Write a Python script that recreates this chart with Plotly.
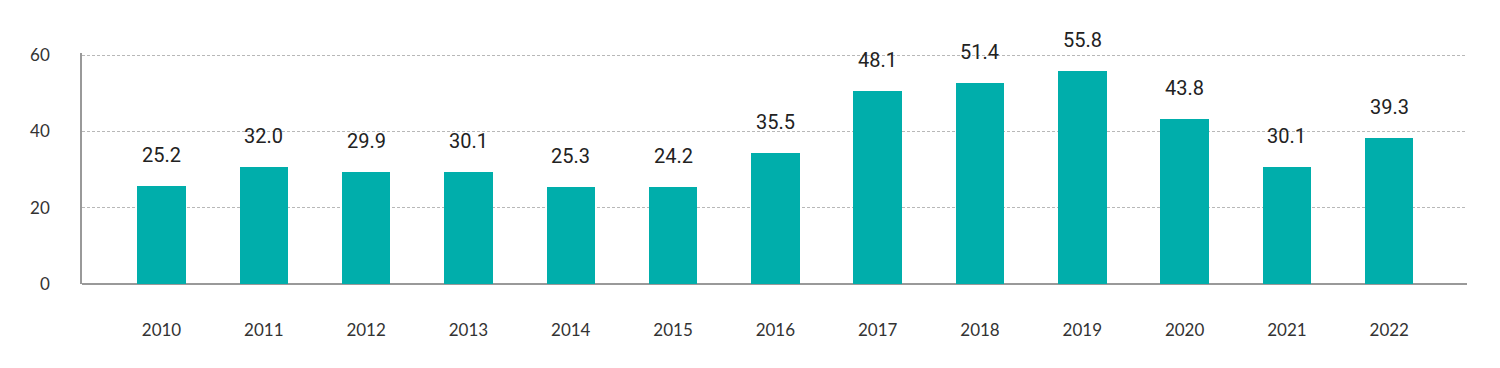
import plotly.graph_objects as go

years = ["2010", "2011", "2012", "2013", "2014", "2015", "2016",
         "2017", "2018", "2019", "2020", "2021", "2022"]
bar_values = [25.6, 30.6, 29.5, 29.5, 25.5, 25.4, 34.4,
              50.7, 52.8, 55.8, 43.2, 30.6, 38.3]
label_texts = ["25.2", "32.0", "29.9", "30.1", "25.3", "24.2", "35.5",
               "48.1", "51.4", "55.8", "43.8", "30.1", "39.3"]
y_ticks = [0, 20, 40, 60]

BAR_COLOR = "#00AEAB"
LABEL_FONT = "Roboto, sans-serif"
TICK_FONT = "Lato, Inter, sans-serif"

fig = go.Figure()
fig.add_trace(go.Bar(
    x=list(range(len(years))),
    y=bar_values,
    width=0.474,
    marker=dict(color=BAR_COLOR, line=dict(width=0)),
    hoverinfo="skip",
))

for i, (v, t) in enumerate(zip(bar_values, label_texts)):
    fig.add_annotation(
        x=i, y=v, text=t, showarrow=False,
        yanchor="middle", xanchor="center", yshift=31,
        font=dict(family=LABEL_FONT, size=20, color="#222222"),
    )

# page body has an 8px default margin, so the figure is sized to fit the window
fig.update_layout(
    width=1492, height=352,
    margin=dict(l=74, r=33, t=45, b=76, autoexpand=False),
    paper_bgcolor="white", plot_bgcolor="white",
    showlegend=False,
    bargap=0,
)
fig.update_xaxes(
    range=[-0.777, 12.76],
    tickmode="array",
    tickvals=list(range(len(years))),
    ticktext=years,
    showgrid=False,
    showline=False,
    zeroline=False,
    ticks="",
    automargin=False,
    ticklabelstandoff=34,
    tickfont=dict(family=TICK_FONT, size=17, color="#333333"),
)
fig.update_yaxes(
    range=[0, 60.6],
    tickmode="array",
    tickvals=y_ticks,
    ticktext=[str(v) for v in y_ticks],
    showgrid=True,
    gridcolor="#b8b8b8",
    griddash="3px,2px",
    gridwidth=1,
    zeroline=True,
    zerolinecolor="#999999",
    zerolinewidth=1.5,
    showline=True,
    linecolor="#999999",
    linewidth=1.5,
    ticks="",
    automargin=False,
    ticklabelstandoff=27,
    tickfont=dict(family=TICK_FONT, size=17, color="#333333"),
)

fig.write_html("out.html")
